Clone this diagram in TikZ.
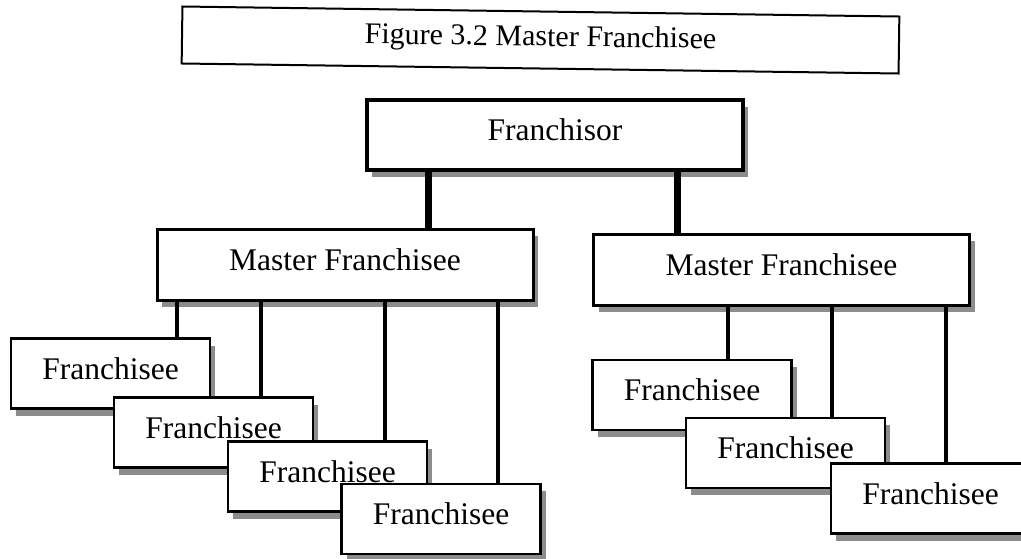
\documentclass[tikz,border=0pt]{standalone}
\usepackage{fontspec}
\setmainfont{Liberation Serif}
\usetikzlibrary{shadows}
\begin{document}
\begin{tikzpicture}[x=1pt,y=-1pt,
  boxbase/.style={draw=black, fill=white, inner sep=0pt,
    font=\fontsize{31.5}{36}\selectfont, text height=21pt, text depth=10pt,
    general shadow={fill=black!45, shadow xshift=5pt, shadow yshift=-7pt}},
  chief/.style={boxbase, line width=4pt, minimum width=376pt, minimum height=70pt},
  master/.style={boxbase, line width=3pt, minimum width=376pt, minimum height=71pt},
  unit/.style={boxbase, line width=2.5pt, minimum width=199pt, minimum height=70pt},
  heading/.style={draw=black, line width=2pt, inner sep=0pt, rotate=-0.8,
    minimum width=717pt, minimum height=57pt,
    font=\fontsize{30}{34}\selectfont, text height=20pt, text depth=8pt},
  trunk/.style={line width=7pt},
  branch/.style={line width=4pt}
]
\useasboundingbox (0,0) rectangle (1021,558);

% heading
\node[heading] (title) at (540.5,40) {Figure 3.2 Master Franchisee};

% franchisor and master franchisees
\node[chief]  (top) at (555,135)    {Franchisor};
\node[master] (mL)  at (345,264.5)  {Master Franchisee};
\node[master] (mR)  at (781.5,269.5){Master Franchisee};

% franchisees, left group (stacked, each over the previous one)
\node[unit] (f1) at (110.5,373.5) {Franchisee};
\node[unit] (f2) at (213.5,432.5) {Franchisee};
\node[unit] (f3) at (327.5,476.5) {Franchisee};
\node[unit] (f4) at (441,519)     {Franchisee};

% franchisees, right group
\node[unit] (f5) at (692,395)     {Franchisee};
\node[unit] (f6) at (785.5,453)   {Franchisee};
\node[unit] (f7) at (930.5,498.5) {Franchisee};

% franchisor to master franchisees
\draw[trunk] ([xshift=63pt]top.south west)  -- ([xshift=63pt]top.south west |- mL.north);
\draw[trunk] ([xshift=312pt]top.south west) -- ([xshift=312pt]top.south west |- mR.north);

% master franchisees to franchisees
\draw[branch] ([xshift=21pt]mL.south west)  -- ([xshift=21pt]mL.south west |- f1.north);
\draw[branch] ([xshift=105pt]mL.south west) -- ([xshift=105pt]mL.south west |- f2.north);
\draw[branch] ([xshift=229pt]mL.south west) -- ([xshift=229pt]mL.south west |- f3.north);
\draw[branch] ([xshift=342pt]mL.south west) -- ([xshift=342pt]mL.south west |- f4.north);

\draw[branch] ([xshift=136pt]mR.south west) -- ([xshift=136pt]mR.south west |- f5.north);
\draw[branch] ([xshift=240pt]mR.south west) -- ([xshift=240pt]mR.south west |- f6.north);
\draw[branch] ([xshift=354pt]mR.south west) -- ([xshift=354pt]mR.south west |- f7.north);
\end{tikzpicture}
\end{document}
